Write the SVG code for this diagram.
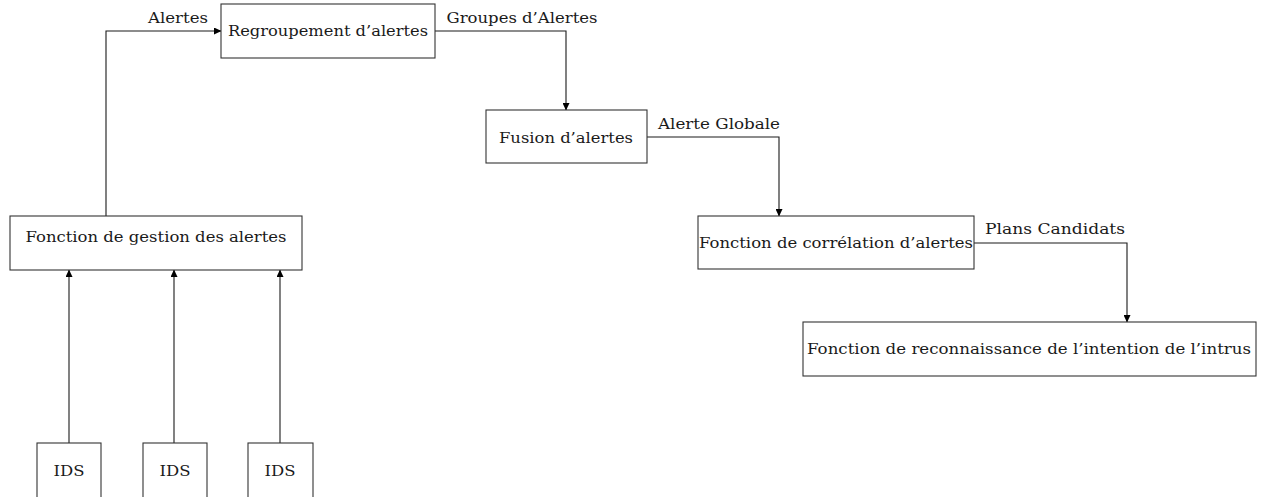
<svg xmlns="http://www.w3.org/2000/svg" width="1267" height="497" viewBox="0 0 1267 497">
  <style>
    .box { fill: #ffffff; stroke: #333333; stroke-width: 1.1; }
    .lbl { font-family: 'DejaVu Serif', 'Liberation Serif', serif; font-size: 14px; fill: #1a1a1a; text-anchor: middle; }
    .edge { fill: none; stroke: #1a1a1a; stroke-width: 1.1; }
  </style>
  <defs>
    <marker id="arrow" markerUnits="userSpaceOnUse" markerWidth="8" markerHeight="7" refX="7" refY="3.5" orient="auto">
      <path d="M0,0 L7.5,3.5 L0,7 z" fill="#000000"/>
    </marker>
  </defs>

  <rect width="1267" height="497" fill="#ffffff"/>

  <!-- connectors -->
  <g id="connectors">
    <path class="edge" d="M106,216 V31 H221" marker-end="url(#arrow)"/>
    <path class="edge" d="M435,31 H566 V110" marker-end="url(#arrow)"/>
    <path class="edge" d="M647,137 H779 V216" marker-end="url(#arrow)"/>
    <path class="edge" d="M974,243 H1127 V322" marker-end="url(#arrow)"/>
    <path class="edge" d="M69,443 V270" marker-end="url(#arrow)"/>
    <path class="edge" d="M174,443 V270" marker-end="url(#arrow)"/>
    <path class="edge" d="M280,443 V270" marker-end="url(#arrow)"/>
    <text class="lbl" x="178" y="23" textLength="60" lengthAdjust="spacingAndGlyphs">Alertes</text>
    <text class="lbl" x="522" y="23" textLength="151" lengthAdjust="spacingAndGlyphs">Groupes d’Alertes</text>
    <text class="lbl" x="719" y="129" textLength="122" lengthAdjust="spacingAndGlyphs">Alerte Globale</text>
    <text class="lbl" x="1055" y="234" textLength="140" lengthAdjust="spacingAndGlyphs">Plans Candidats</text>
  </g>

  <g id="regroupement">
    <rect class="box" x="221" y="4" width="214" height="54"/>
    <text class="lbl" x="328" y="36" textLength="200" lengthAdjust="spacingAndGlyphs">Regroupement d’alertes</text>
  </g>

  <g id="fusion">
    <rect class="box" x="486" y="110" width="161" height="53"/>
    <text class="lbl" x="566" y="143" textLength="134" lengthAdjust="spacingAndGlyphs">Fusion d’alertes</text>
  </g>

  <g id="correlation">
    <rect class="box" x="698" y="216" width="276" height="53"/>
    <text class="lbl" x="836" y="248" textLength="274" lengthAdjust="spacingAndGlyphs">Fonction de corrélation d’alertes</text>
  </g>

  <g id="reconnaissance">
    <rect class="box" x="803" y="322" width="453" height="54"/>
    <text class="lbl" x="1029" y="354" textLength="444" lengthAdjust="spacingAndGlyphs">Fonction de reconnaissance de l’intention de l’intrus</text>
  </g>

  <g id="gestion">
    <rect class="box" x="10" y="216" width="292" height="54"/>
    <text class="lbl" x="156" y="242" textLength="261" lengthAdjust="spacingAndGlyphs">Fonction de gestion des alertes</text>
  </g>

  <g id="ids1">
    <rect class="box" x="37" y="443" width="64" height="60"/>
    <text class="lbl" x="69" y="476" textLength="31" lengthAdjust="spacingAndGlyphs">IDS</text>
  </g>

  <g id="ids2">
    <rect class="box" x="143" y="443" width="64" height="60"/>
    <text class="lbl" x="175" y="476" textLength="31" lengthAdjust="spacingAndGlyphs">IDS</text>
  </g>

  <g id="ids3">
    <rect class="box" x="248" y="443" width="65" height="60"/>
    <text class="lbl" x="280" y="476" textLength="31" lengthAdjust="spacingAndGlyphs">IDS</text>
  </g>
</svg>
